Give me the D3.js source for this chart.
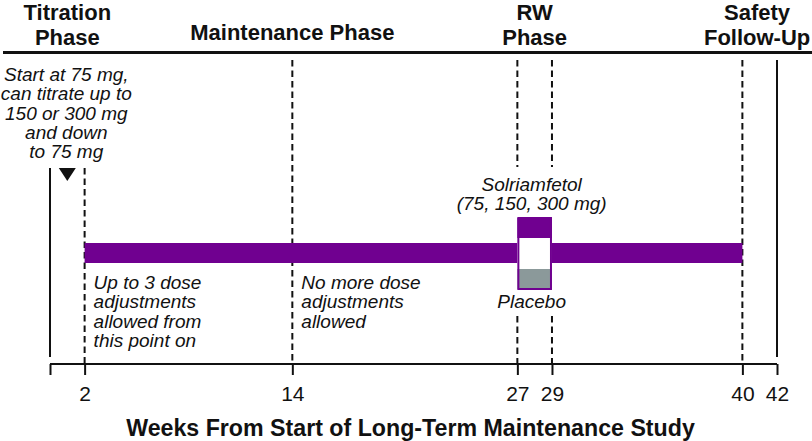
<!DOCTYPE html>
<html>
<head>
<meta charset="utf-8">
<script src="https://cdn.jsdelivr.net/npm/d3@7"></script>
<style>
  html, body { margin: 0; padding: 0; background: #fff; }
  svg { display: block; }
  text { font-family: "Liberation Sans", Arial, Helvetica, sans-serif; fill: #111; }
</style>
</head>
<body>
<svg id="chart" width="812" height="441"></svg>
<script>
// ---------------- data ----------------
const weekDomain = [0, 42];
const tickWeeks = [0, 2, 14, 27, 29, 40, 42];
const tickLabels = ["", "2", "14", "27", "29", "40", "42"];
const phaseTitles = [["Titration", "Phase"], ["Maintenance Phase"], ["RW", "Phase"], ["Safety", "Follow-Up"]];
const phaseCenters = [1, 14, 28, 40.85];
const solidBoundaries = [0, 42];
const dashedBoundaries = [2, 14, 27, 29, 40];
const treatmentStart = 2;
const rwStart = 27;
const rwEnd = 29;
const treatmentEnd = 40;
const titrationNote = ["Start at 75 mg,", "can titrate up to", "150 or 300 mg", "and down", "to 75 mg"];
const earlyNote = ["Up to 3 dose", "adjustments", "allowed from", "this point on"];
const lateNote = ["No more dose", "adjustments", "allowed"];
const activeLabel = ["Solriamfetol", "(75, 150, 300 mg)"];
const placeboLabel = "Placebo";
const axisTitle = "Weeks From Start of Long-Term Maintenance Study";

// ---------------- layout ----------------
const purple = "#700090";
const grey = "#8b999a";
const svg = d3.select("#chart");
const x = d3.scaleLinear().domain(weekDomain).range([50, 777]);
const axisY = 364;

// top rule
svg.append("line").attr("x1", 3).attr("x2", 812).attr("y1", 52.5).attr("y2", 52.5)
  .attr("stroke", "#111").attr("stroke-width", 3);

// phase titles
phaseTitles.forEach((lines, i) => {
  const baseY = lines.length === 1 ? [40] : [20, 45];
  lines.forEach((l, j) => {
    svg.append("text").attr("x", x(phaseCenters[i])).attr("y", baseY[j])
      .attr("text-anchor", "middle").attr("font-weight", "bold").attr("font-size", 22)
      .text(l);
  });
});

// boundary lines
const boundaryTop = w => (w <= 2 ? 168 : 60);
solidBoundaries.forEach(w => {
  svg.append("line").attr("x1", x(w)).attr("x2", x(w))
    .attr("y1", boundaryTop(w)).attr("y2", 357)
    .attr("stroke", "#111").attr("stroke-width", 2);
});
dashedBoundaries.forEach(w => {
  const segs = (w === rwStart || w === rwEnd) ? [[60, 167], [316, axisY]] : [[boundaryTop(w), axisY]];
  segs.forEach(s => {
    svg.append("line").attr("x1", x(w)).attr("x2", x(w))
      .attr("y1", s[0]).attr("y2", s[1])
      .attr("stroke", "#111").attr("stroke-width", 2).attr("stroke-dasharray", "6.5,4");
  });
});

// treatment bar
const barY = 243, barH = 20;
svg.append("rect").attr("x", x(treatmentStart)).attr("y", barY)
  .attr("width", x(rwStart) - x(treatmentStart)).attr("height", barH).attr("fill", purple);
svg.append("rect").attr("x", x(rwEnd)).attr("y", barY)
  .attr("width", x(treatmentEnd) - x(rwEnd)).attr("height", barH).attr("fill", purple);

// randomized withdrawal box
const boxTop = 218, boxBot = 289;
const bx0 = x(rwStart), bx1 = x(rwEnd);
svg.append("rect").attr("x", bx0).attr("y", boxTop).attr("width", bx1 - bx0).attr("height", boxBot - boxTop)
  .attr("fill", "#fff");
svg.append("rect").attr("x", bx0).attr("y", boxTop).attr("width", bx1 - bx0).attr("height", 20)
  .attr("fill", purple);
svg.append("rect").attr("x", bx0).attr("y", 269).attr("width", bx1 - bx0).attr("height", boxBot - 269)
  .attr("fill", grey);
svg.append("rect").attr("x", bx0 + 1).attr("y", boxTop).attr("width", bx1 - bx0 - 2).attr("height", boxBot - boxTop)
  .attr("fill", "none").attr("stroke", purple).attr("stroke-width", 2);

// triangle marker
const triX = x(1);
svg.append("path").attr("d", `M${triX - 8.5},168 L${triX + 8.5},168 L${triX},181 Z`).attr("fill", "#111");

// notes
function italicLines(lines, xPos, y0, anchor) {
  lines.forEach((l, i) => {
    svg.append("text").attr("x", xPos).attr("y", y0 + i * 19.3)
      .attr("text-anchor", anchor).attr("font-style", "italic").attr("font-size", 19)
      .text(l);
  });
}
italicLines(titrationNote, x(1) - 1, 81, "middle");
italicLines(earlyNote, x(treatmentStart) + 9, 289, "start");
italicLines(lateNote, x(14) + 9, 289, "start");
italicLines(activeLabel, x(28) - 3, 191, "middle");
italicLines([placeboLabel], x(28) - 3, 308, "middle");

// x axis
const axis = d3.axisBottom(x).tickValues(tickWeeks)
  .tickFormat((d, i) => tickLabels[i]).tickSize(11).tickPadding(11);
const gAxis = svg.append("g").attr("transform", `translate(0,${axisY})`).call(axis);
gAxis.select(".domain").attr("stroke", "#111").attr("stroke-width", 2).attr("d", `M${x(0)},0H${x(42)}`);
gAxis.selectAll(".tick line").attr("stroke", "#111").attr("stroke-width", 2);
gAxis.selectAll(".tick text").attr("font-size", 21).attr("fill", "#111")
  .attr("font-family", '"Liberation Sans", Arial, sans-serif');

svg.append("text").attr("x", 410.5).attr("y", 436).attr("text-anchor", "middle")
  .attr("font-weight", "bold").attr("font-size", 23.2).text(axisTitle);
</script>
</body>
</html>
